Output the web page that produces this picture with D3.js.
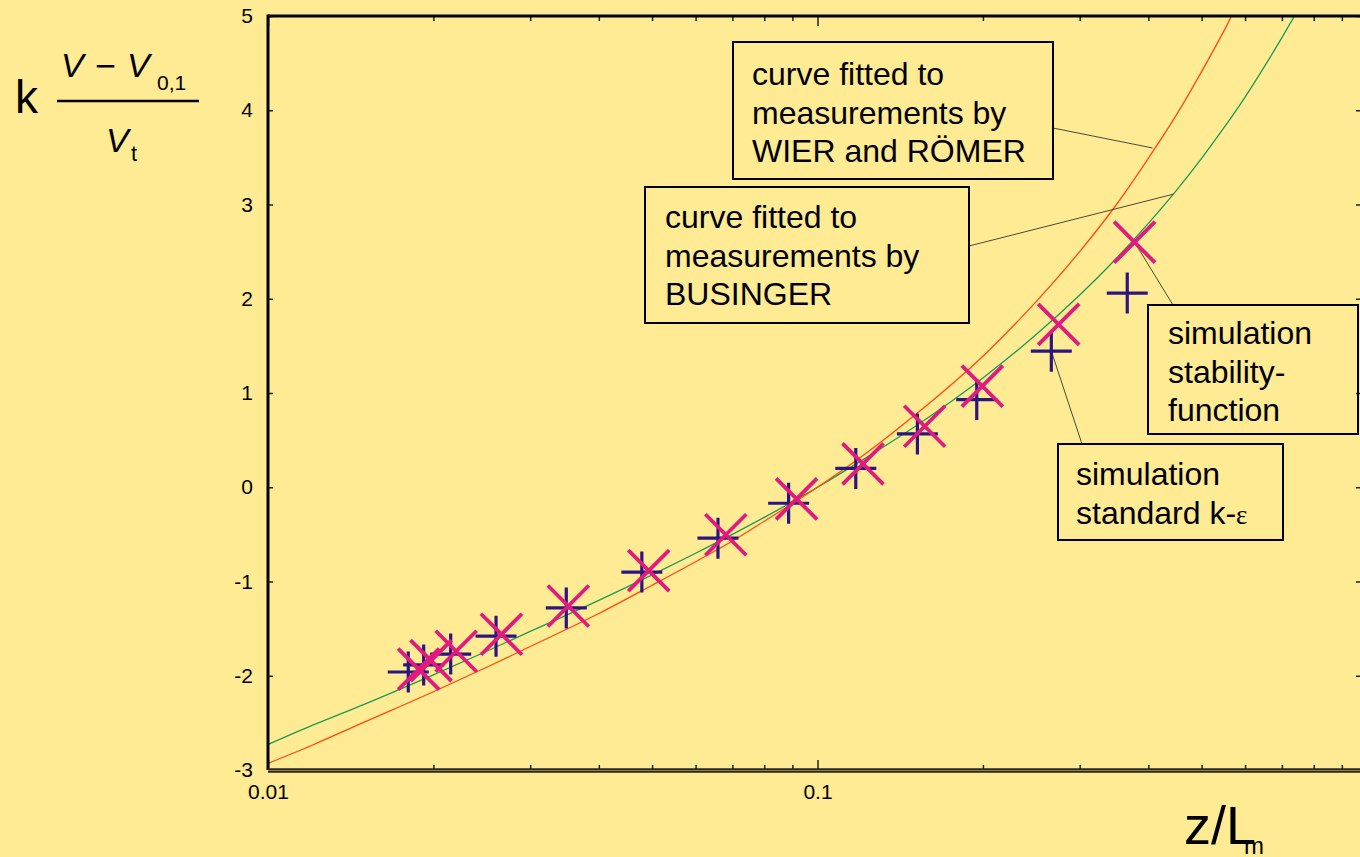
<!DOCTYPE html>
<html>
<head>
<meta charset="utf-8">
<script src="https://cdn.jsdelivr.net/npm/d3@7/dist/d3.min.js"></script>
<style>
  html, body { margin: 0; padding: 0; background: #feeb93; }
  svg { display: block; font-family: "Liberation Sans", Arial, sans-serif; }
</style>
</head>
<body>
<svg id="chart" width="1360" height="857"></svg>
<script>
// curve fitted to measurements by WIER and ROEMER
const wierX = [0.01, 0.012, 0.015, 0.02, 0.025, 0.03, 0.04, 0.05, 0.06, 0.07, 0.08, 0.1, 0.12, 0.15, 0.2, 0.25, 0.3, 0.35, 0.4, 0.45, 0.5, 0.55, 0.6];
const wierY = [-2.93, -2.74, -2.49, -2.17, -1.91, -1.69, -1.34, -1.04, -0.79, -0.57, -0.36, 0, 0.32, 0.76, 1.39, 1.97, 2.50, 3.00, 3.49, 3.95, 4.41, 4.85, 5.29];

// curve fitted to measurements by BUSINGER
const busX = [0.01, 0.012, 0.015, 0.02, 0.025, 0.03, 0.04, 0.05, 0.06, 0.07, 0.08, 0.1, 0.12, 0.15, 0.2, 0.25, 0.3, 0.35, 0.4, 0.45, 0.5, 0.55, 0.6, 0.65, 0.7, 0.75];
const busY = [-2.73, -2.53, -2.30, -1.99, -1.74, -1.53, -1.20, -0.93, -0.70, -0.50, -0.32, 0, 0.28, 0.64, 1.16, 1.62, 2.04, 2.43, 2.80, 3.15, 3.49, 3.82, 4.14, 4.46, 4.77, 5.07];

// simulation standard k-eps (plus)
const stdX = [0.0180, 0.0192, 0.0215, 0.0260, 0.0349, 0.0479, 0.0659, 0.0886, 0.1174, 0.152, 0.1949, 0.2664, 0.3662];
const stdY = [-1.96, -1.885, -1.77, -1.58, -1.28, -0.90, -0.54, -0.17, 0.20, 0.566, 0.93, 1.444, 2.06];

// simulation stability-function (cross)
const stabX = [0.0188, 0.0198, 0.0220, 0.0266, 0.0352, 0.0493, 0.0681, 0.0916, 0.121, 0.1567, 0.1995, 0.2747, 0.3776];
const stabY = [-1.93, -1.84, -1.74, -1.56, -1.26, -0.885, -0.504, -0.124, 0.248, 0.647, 1.072, 1.728, 2.60];

const xTicks = [0.01, 0.1];
const xMinor = [0.02, 0.03, 0.04, 0.05, 0.06, 0.07, 0.08, 0.09, 0.2, 0.3, 0.4, 0.5, 0.6, 0.7, 0.8, 0.9];
const yTicks = [-3, -2, -1, 0, 1, 2, 3, 4, 5];

const svg = d3.select("#chart");
const bg = "#feeb93";

const pLeft = 268, pRight = 1367, pTop = 16, pBottom = 770;

const x = d3.scaleLog().domain([0.01, 1]).range([pLeft, pRight]);
const y = d3.scaleLinear().domain([-3, 5]).range([pBottom, pTop]);

svg.append("rect").attr("width", 1360).attr("height", 857).attr("fill", bg);

svg.append("defs").append("clipPath").attr("id", "plot")
  .append("rect").attr("x", pLeft).attr("y", pTop)
  .attr("width", pRight - pLeft).attr("height", pBottom - pTop);

// curves
const line = d3.line()
  .x(d => x(d[0]))
  .y(d => y(d[1]))
  .curve(d3.curveMonotoneX);

const curves = svg.append("g").attr("clip-path", "url(#plot)");
curves.append("path")
  .datum(busX.map((v, i) => [v, busY[i]]))
  .attr("d", line).attr("fill", "none")
  .attr("stroke", "#1c9b55").attr("stroke-width", 1.3);
curves.append("path")
  .datum(wierX.map((v, i) => [v, wierY[i]]))
  .attr("d", line).attr("fill", "none")
  .attr("stroke", "#ff4a10").attr("stroke-width", 1.3);

// leader lines
const leaders = [
  [[1053, 128], [x(0.407), y(3.6)]],
  [[969, 246], [x(0.4446), y(3.11)]],
  [[x(stabX[12]), y(stabY[12])], [1173, 305]],
  [[x(stdX[11]), y(stdY[11])], [1082, 444]]
];
svg.append("g").selectAll("line")
  .data(leaders).enter().append("line")
  .attr("x1", d => d[0][0]).attr("y1", d => d[0][1])
  .attr("x2", d => d[1][0]).attr("y2", d => d[1][1])
  .attr("stroke", "#4a4a3a").attr("stroke-width", 1);

// markers
const arm = 20.5;
svg.append("g").selectAll("path")
  .data(stdX.map((v, i) => [v, stdY[i]]))
  .enter().append("path")
  .attr("transform", d => `translate(${x(d[0])},${y(d[1])})`)
  .attr("d", `M${-arm},0H${arm}M0,${-arm}V${arm}`)
  .attr("stroke", "#2d1580").attr("stroke-width", 3.2).attr("fill", "none");

svg.append("g").selectAll("path")
  .data(stabX.map((v, i) => [v, stabY[i]]))
  .enter().append("path")
  .attr("transform", d => `translate(${x(d[0])},${y(d[1])})`)
  .attr("d", `M${-arm},${-arm}L${arm},${arm}M${-arm},${arm}L${arm},${-arm}`)
  .attr("stroke", "#e01a7e").attr("stroke-width", 3.8).attr("fill", "none");

// axes
const fmt = d => String(d);

svg.append("g").attr("transform", `translate(0,${pBottom})`)
  .call(d3.axisBottom(x).tickValues(xTicks).tickFormat(fmt).tickSizeInner(-10).tickSizeOuter(0).tickPadding(14));
svg.append("g").attr("transform", `translate(0,${pBottom})`)
  .call(d3.axisBottom(x).tickValues(xMinor).tickFormat("").tickSizeInner(-5).tickSizeOuter(0));
svg.append("g").attr("transform", `translate(0,${pTop})`)
  .call(d3.axisTop(x).tickValues(xTicks).tickFormat("").tickSizeInner(-10).tickSizeOuter(0));
svg.append("g").attr("transform", `translate(0,${pTop})`)
  .call(d3.axisTop(x).tickValues(xMinor).tickFormat("").tickSizeInner(-5).tickSizeOuter(0));

svg.append("g").attr("transform", `translate(${pLeft},0)`)
  .call(d3.axisLeft(y).tickValues(yTicks).tickFormat(fmt).tickSizeInner(-5).tickSizeOuter(0).tickPadding(15));
svg.append("g").attr("transform", `translate(${pRight},0)`)
  .call(d3.axisRight(y).tickValues(yTicks).tickFormat("").tickSizeInner(-11).tickSizeOuter(0));

svg.selectAll(".domain").remove();
svg.selectAll(".tick line").attr("stroke", "#222").attr("stroke-width", 1.5);
svg.selectAll(".tick text").attr("fill", "#000")
  .style("font-family", "'Liberation Sans', Arial, sans-serif").style("font-size", "21px");

// frame lines
svg.append("line").attr("x1", pLeft).attr("x2", pRight).attr("y1", pTop).attr("y2", pTop)
  .attr("stroke", "#000").attr("stroke-width", 3);
svg.append("line").attr("x1", pLeft).attr("x2", pLeft).attr("y1", pTop - 1.5).attr("y2", pBottom)
  .attr("stroke", "#000").attr("stroke-width", 3);
svg.append("line").attr("x1", pLeft).attr("x2", pRight).attr("y1", pBottom + 0.5).attr("y2", pBottom + 0.5)
  .attr("stroke", "#2a2720").attr("stroke-width", 4.5);
svg.append("line").attr("x1", pLeft).attr("x2", pRight).attr("y1", pBottom + 0.5).attr("y2", pBottom + 0.5)
  .attr("stroke", "#8f8350").attr("stroke-width", 1.2);

// annotation boxes
const boxes = [
  { x: 733, y: 42, w: 320, h: 137, tx: 752, lines: ["curve fitted to", "measurements by", "WIER and RÖMER"], base: 85 },
  { x: 645, y: 187, w: 324, h: 136, tx: 665, lines: ["curve fitted to", "measurements by", "BUSINGER"], base: 228 },
  { x: 1148, y: 305, w: 210, h: 129, tx: 1168, lines: ["simulation", "stability-", "function"], base: 344 },
  { x: 1058, y: 444, w: 225, h: 96, tx: 1076, lines: ["simulation", "standard k-"], base: 485 }
];
const bx = svg.append("g");
boxes.forEach((b, bi) => {
  bx.append("rect").attr("x", b.x).attr("y", b.y).attr("width", b.w).attr("height", b.h)
    .attr("fill", "none").attr("stroke", "#000").attr("stroke-width", 2);
  const t = bx.append("text").attr("font-size", 32).attr("fill", "#000");
  b.lines.forEach((s, i) => {
    t.append("tspan").attr("x", b.tx).attr("y", b.base + i * 38.5).text(s);
    if (bi === 3 && i === 1) {
      t.append("tspan").attr("font-family", "'Liberation Serif', 'DejaVu Serif', serif")
        .attr("font-size", 27).text("ε");
    }
  });
});

// y title
const yt = svg.append("g").attr("fill", "#000");
yt.append("text").attr("x", 15).attr("y", 113).attr("font-size", 46).text("k");
yt.append("text").attr("x", 61).attr("y", 77).attr("font-size", 34).attr("font-style", "italic").text("V");
yt.append("text").attr("x", 95).attr("y", 78).attr("font-size", 36).text("−");
yt.append("text").attr("x", 127).attr("y", 77).attr("font-size", 34).attr("font-style", "italic").text("V");
yt.append("text").attr("x", 157).attr("y", 90).attr("font-size", 21).text("0,1");
yt.append("line").attr("x1", 57).attr("x2", 199).attr("y1", 101).attr("y2", 101)
  .attr("stroke", "#000").attr("stroke-width", 2.5);
yt.append("text").attr("x", 106).attr("y", 152).attr("font-size", 34).attr("font-style", "italic").text("V");
yt.append("text").attr("x", 131).attr("y", 161).attr("font-size", 22).text("t");

// x title
const xt = svg.append("g").attr("fill", "#000");
xt.append("text").attr("x", 1184).attr("y", 844).attr("font-size", 54).text("z/L");
xt.append("text").attr("x", 1244).attr("y", 854).attr("font-size", 24).text("m");
</script>
</body>
</html>
